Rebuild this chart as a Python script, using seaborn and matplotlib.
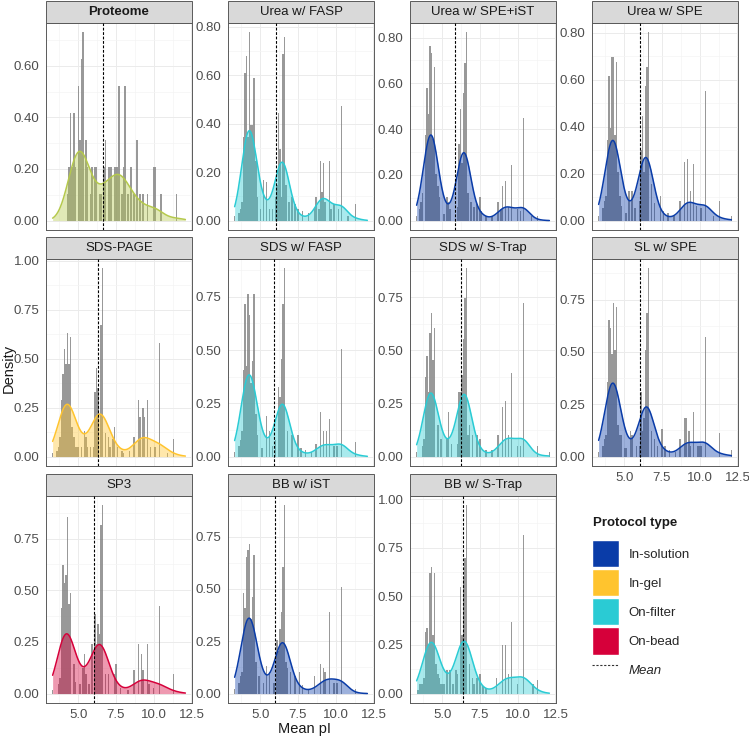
import numpy as np
import matplotlib
matplotlib.use('Agg')
import matplotlib.pyplot as plt
from matplotlib.patches import Rectangle, Patch
from matplotlib.lines import Line2D
from matplotlib.ticker import MultipleLocator, FormatStrFormatter
import seaborn as sns

# Панели и типы протоколов
panels = ['Proteome', 'Urea w/ FASP', 'Urea w/ SPE+iST', 'Urea w/ SPE',
          'SDS-PAGE', 'SDS w/ FASP', 'SDS w/ S-Trap', 'SL w/ SPE',
          'SP3', 'BB w/ iST', 'BB w/ S-Trap']
panel_type = ['Proteome', 'On-filter', 'In-solution', 'In-solution',
              'In-gel', 'On-filter', 'On-filter', 'In-solution',
              'On-bead', 'In-solution', 'On-filter']
mean_pi = [6.63, 6.02, 5.86, 6.04, 6.30, 5.90, 6.24, 6.04, 6.04, 5.95, 6.35]

type_names = ['In-solution', 'In-gel', 'On-filter', 'On-bead']
type_colors = {'In-solution': '#0A3CA8', 'In-gel': '#FFC42E', 'On-filter': '#2ACBD4',
               'On-bead': '#D6003A', 'Proteome': '#B5C94C'}

# Данные гистограмм: pI (центр бина 0.1) и высота столбца
proteome_pi = [4.3, 4.4, 4.5, 4.6, 4.7, 4.8, 5.0, 5.1, 5.2, 5.3, 5.5, 5.6, 5.8, 5.9,
               6.1, 6.2, 6.4, 6.5, 6.7, 6.8, 7.0, 7.1, 7.2, 7.4, 7.5, 7.6, 7.7, 7.9,
               8.0, 8.1, 8.3, 8.5, 8.7, 8.9, 9.1, 9.3, 9.6, 10.0, 10.1, 10.5, 11.5]
proteome_h = [1, 2, 4, 2, 4, 2, 5, 3, 6, 7, 3, 2, 1, 2,
              2, 2, 1, 1, 2, 3, 2, 2, 2, 2, 2, 2, 5, 1,
              2, 5, 1, 2, 1, 3, 1, 1, 1, 2, 2, 1, 1]

ufasp_pi = [3.3, 3.6, 3.7, 3.8, 3.9, 4.0, 4.1, 4.2, 4.3, 4.4, 4.5, 4.6, 4.7, 4.8,
            5.0, 5.2, 5.4, 5.6, 5.8, 6.0, 6.1, 6.2, 6.3, 6.4, 6.5, 6.6, 6.7, 6.9,
            7.1, 7.3, 7.5, 7.8, 8.2, 8.6, 8.7, 8.9, 9.0, 9.1, 9.2, 9.3, 9.6, 9.7,
            9.9, 10.2, 10.4, 10.8, 11.3]
ufasp_h = [0.02, 0.03, 0.05, 0.08, 0.35, 0.62, 0.69, 0.35, 0.79, 0.40, 0.40, 0.60, 0.25, 0.10,
           0.05, 0.17, 0.16, 0.05, 0.05, 0.10, 0.15, 0.45, 0.30, 0.10, 0.70, 0.77, 0.15, 0.08,
           0.10, 0.07, 0.05, 0.04, 0.03, 0.05, 0.10, 0.05, 0.25, 0.12, 0.24, 0.08, 0.25, 0.05,
           0.07, 0.05, 0.48, 0.02, 0.07]

uspeist_pi = [3.3, 3.5, 3.6, 3.7, 3.9, 4.0, 4.1, 4.2, 4.3, 4.4, 4.5, 4.6, 4.7, 4.8,
              5.1, 5.3, 5.4, 5.5, 6.0, 6.1, 6.2, 6.3, 6.4, 6.5, 6.6, 6.7, 6.9, 7.1,
              7.3, 7.5, 7.6, 7.9, 8.3, 8.7, 8.9, 9.0, 9.2, 9.4, 9.6, 10.0, 10.2, 10.4,
              10.9, 11.3]
uspeist_h = [0.02, 0.05, 0.08, 0.12, 0.37, 0.57, 0.46, 0.75, 0.72, 0.35, 0.66, 0.20, 0.15, 0.10,
             0.03, 0.10, 0.08, 0.05, 0.06, 0.33, 0.48, 0.25, 0.55, 0.68, 0.81, 0.12, 0.08, 0.06,
             0.07, 0.10, 0.04, 0.02, 0.02, 0.08, 0.05, 0.15, 0.17, 0.06, 0.24, 0.05, 0.04, 0.44,
             0.02, 0.02]

uspe_pi = [3.3, 3.6, 3.7, 3.8, 3.9, 4.0, 4.1, 4.2, 4.3, 4.4, 4.5, 4.6, 4.7, 4.8,
           5.1, 5.3, 5.5, 5.7, 6.0, 6.1, 6.2, 6.3, 6.4, 6.5, 6.6, 6.8, 7.0, 7.4,
           7.6, 7.9, 8.3, 8.7, 9.0, 9.2, 9.4, 9.6, 9.8, 10.1, 10.4, 10.9, 11.3, 12.1]
uspe_h = [0.02, 0.05, 0.08, 0.10, 0.33, 0.59, 0.38, 0.67, 0.67, 0.35, 0.65, 0.20, 0.10, 0.06,
          0.03, 0.12, 0.12, 0.05, 0.08, 0.29, 0.43, 0.20, 0.55, 0.63, 0.77, 0.15, 0.07, 0.10,
          0.04, 0.03, 0.02, 0.08, 0.24, 0.25, 0.12, 0.23, 0.06, 0.05, 0.53, 0.02, 0.08, 0.02]

page_pi = [3.3, 3.6, 3.7, 3.8, 3.9, 4.0, 4.1, 4.2, 4.3, 4.4, 4.5, 4.6, 4.7, 4.8,
           4.9, 5.0, 5.2, 5.4, 5.5, 5.6, 5.8, 6.0, 6.1, 6.2, 6.3, 6.5, 6.6, 6.8,
           7.0, 7.1, 7.3, 7.4, 7.6, 7.9, 8.0, 8.4, 8.7, 9.0, 9.1, 9.3, 9.4, 9.6,
           9.8, 10.1, 10.4, 10.9, 11.3]
page_h = [0.02, 0.03, 0.05, 0.10, 0.29, 0.42, 0.55, 0.47, 0.63, 0.47, 0.61, 0.15, 0.10, 0.05,
          0.05, 0.05, 0.05, 0.13, 0.10, 0.05, 0.05, 0.05, 0.33, 0.45, 0.35, 0.67, 0.96, 0.12,
          0.10, 0.05, 0.09, 0.15, 0.05, 0.03, 0.02, 0.03, 0.10, 0.29, 0.20, 0.25, 0.20, 0.29,
          0.05, 0.05, 0.58, 0.02, 0.09]

sfasp_pi = [3.3, 3.6, 3.7, 3.8, 3.9, 4.0, 4.1, 4.2, 4.3, 4.4, 4.5, 4.6, 4.7, 4.8,
            5.1, 5.4, 5.6, 5.8, 6.0, 6.2, 6.3, 6.4, 6.5, 6.6, 6.8, 7.1, 7.5, 7.7,
            8.0, 8.4, 8.7, 9.0, 9.2, 9.4, 9.6, 9.9, 10.1, 10.4, 11.3]
sfasp_h = [0.02, 0.05, 0.08, 0.12, 0.41, 0.72, 0.43, 0.77, 0.67, 0.35, 0.45, 0.77, 0.20, 0.10,
           0.04, 0.19, 0.12, 0.05, 0.08, 0.33, 0.28, 0.46, 0.72, 0.89, 0.12, 0.10, 0.10, 0.04,
           0.03, 0.02, 0.06, 0.21, 0.12, 0.12, 0.18, 0.05, 0.05, 0.51, 0.07]

sstrap_pi = [3.3, 3.7, 3.8, 3.9, 4.0, 4.1, 4.2, 4.3, 4.4, 4.5, 4.7, 4.9, 5.3, 5.4,
             5.6, 6.0, 6.1, 6.2, 6.3, 6.4, 6.5, 6.6, 6.7, 6.8, 7.0, 7.3, 7.5, 7.9,
             8.3, 8.7, 9.0, 9.2, 9.4, 9.6, 10.0, 10.2, 10.4, 11.3, 12.1]
sstrap_h = [0.02, 0.05, 0.08, 0.37, 0.47, 0.30, 0.58, 0.67, 0.45, 0.60, 0.15, 0.08, 0.08, 0.21,
            0.06, 0.06, 0.30, 0.30, 0.38, 0.55, 0.74, 0.88, 0.10, 0.15, 0.10, 0.10, 0.08, 0.03,
            0.03, 0.10, 0.23, 0.26, 0.10, 0.39, 0.05, 0.05, 0.72, 0.05, 0.02]

slspe_pi = [3.3, 3.6, 3.7, 3.8, 3.9, 4.0, 4.1, 4.2, 4.3, 4.4, 4.5, 4.6, 4.7, 4.8,
            5.0, 5.1, 5.4, 5.5, 5.8, 6.0, 6.1, 6.2, 6.3, 6.4, 6.5, 6.6, 6.8, 7.0,
            7.2, 7.5, 7.7, 8.0, 8.4, 8.7, 9.0, 9.1, 9.3, 9.4, 9.6, 9.9, 10.0, 10.1,
            10.4, 11.3, 12.1]
slspe_h = [0.02, 0.05, 0.08, 0.10, 0.35, 0.64, 0.60, 0.48, 0.72, 0.50, 0.70, 0.15, 0.10, 0.10,
           0.04, 0.04, 0.12, 0.10, 0.05, 0.05, 0.30, 0.12, 0.18, 0.50, 0.67, 0.88, 0.12, 0.08,
           0.05, 0.13, 0.05, 0.03, 0.02, 0.08, 0.18, 0.18, 0.12, 0.05, 0.21, 0.05, 0.05, 0.05,
           0.56, 0.11, 0.03]

sp3_pi = [3.3, 3.7, 3.8, 3.9, 4.0, 4.1, 4.2, 4.3, 4.4, 4.5, 4.7, 4.8, 5.1, 5.3,
          5.4, 5.5, 5.7, 5.9, 6.1, 6.2, 6.3, 6.4, 6.5, 6.6, 6.8, 7.0, 7.4, 7.5,
          7.8, 8.3, 8.7, 9.0, 9.2, 9.3, 9.6, 9.7, 10.0, 10.4, 11.3]
sp3_h = [0.02, 0.05, 0.08, 0.43, 0.64, 0.55, 0.59, 0.88, 0.45, 0.50, 0.15, 0.06, 0.05, 0.13,
         0.20, 0.10, 0.05, 0.25, 0.40, 0.25, 0.35, 0.30, 0.84, 0.94, 0.10, 0.10, 0.10, 0.15,
         0.03, 0.02, 0.12, 0.25, 0.20, 0.12, 0.25, 0.05, 0.03, 0.44, 0.10]

bbist_pi = [3.3, 3.6, 3.7, 3.8, 3.9, 4.0, 4.1, 4.2, 4.3, 4.4, 4.5, 4.6, 4.7, 4.9,
            5.2, 5.4, 5.6, 5.9, 6.1, 6.2, 6.3, 6.4, 6.5, 6.6, 6.7, 6.8, 7.0, 7.3,
            7.6, 7.8, 8.2, 8.6, 9.0, 9.2, 9.3, 9.6, 9.9, 10.1, 10.4, 11.3]
bbist_h = [0.02, 0.05, 0.08, 0.10, 0.47, 0.40, 0.64, 0.67, 0.70, 0.35, 0.45, 0.65, 0.15, 0.08,
           0.05, 0.13, 0.10, 0.05, 0.25, 0.20, 0.30, 0.38, 0.59, 0.88, 0.15, 0.12, 0.10, 0.08,
           0.10, 0.04, 0.02, 0.08, 0.14, 0.12, 0.10, 0.38, 0.05, 0.05, 0.50, 0.02]

bbstrap_pi = [3.4, 3.5, 3.6, 3.7, 3.8, 3.9, 4.0, 4.1, 4.2, 4.3, 4.4, 4.5, 4.6, 4.7,
              4.8, 4.9, 5.0, 5.1, 5.3, 5.5, 5.7, 5.9, 6.0, 6.2, 6.3, 6.4, 6.5, 6.6,
              6.8, 7.0, 7.1, 7.3, 7.5, 7.7, 7.9, 8.6, 9.0, 9.2, 9.4, 9.6, 10.0, 10.4,
              11.0, 11.3]
bbstrap_h = [0.02, 0.05, 0.05, 0.05, 0.08, 0.32, 0.34, 0.25, 0.62, 0.65, 0.30, 0.62, 0.15, 0.10,
             0.08, 0.05, 0.05, 0.05, 0.12, 0.12, 0.05, 0.12, 0.10, 0.55, 0.30, 0.60, 0.70, 0.97,
             0.15, 0.08, 0.05, 0.08, 0.10, 0.04, 0.03, 0.08, 0.25, 0.25, 0.10, 0.37, 0.05, 0.82,
             0.05, 0.07]

pi_sets = [proteome_pi, ufasp_pi, uspeist_pi, uspe_pi, page_pi, sfasp_pi,
           sstrap_pi, slspe_pi, sp3_pi, bbist_pi, bbstrap_pi]
h_sets = [proteome_h, ufasp_h, uspeist_h, uspe_h, page_h, sfasp_h,
          sstrap_h, slspe_h, sp3_h, bbist_h, bbstrap_h]

# ширина ядра KDE (в единицах pI) и шаг делений оси y
kde_bw = [0.55, 0.42, 0.42, 0.45, 0.55, 0.45, 0.45, 0.47, 0.55, 0.47, 0.50]
y_step = [0.2, 0.2, 0.2, 0.2, 0.25, 0.25, 0.25, 0.25, 0.25, 0.25, 0.25]

sns.set_style('white')
plt.rcParams['font.family'] = ['Liberation Sans', 'DejaVu Sans']

W, H = 749, 736
fig = plt.figure(figsize=(W / 100, H / 100), dpi=100)
col_x = [46, 228, 410, 592]
row_top = [23, 259, 496]
pw, ph, strip_h = 146, 207, 22
bottom_panels = [7, 8, 9, 10]

for i, name in enumerate(panels):
    r, c = divmod(i, 4)
    ax = fig.add_axes([col_x[c] / W, 1 - (row_top[r] + ph) / H, pw / W, ph / H])
    x = np.array(pi_sets[i])
    w = np.array(h_sets[i], dtype=float)
    col = type_colors[panel_type[i]]

    sns.histplot(x=x, weights=w, stat='density', binwidth=0.1, binrange=(3.25, 12.15),
                 color='#808080', alpha=0.8, linewidth=0, ax=ax, zorder=2)
    fac = kde_bw[i] / np.sqrt(np.cov(x, aweights=w))
    sns.kdeplot(x=x, weights=w, bw_method=fac, cut=30, clip=(3.3, 12.1), gridsize=400,
                fill=True, color=col, alpha=0.4, linewidth=0, ax=ax, zorder=3)
    sns.kdeplot(x=x, weights=w, bw_method=fac, cut=30, clip=(3.3, 12.1), gridsize=400,
                color=col, linewidth=1.1, ax=ax, zorder=4)
    ax.axvline(mean_pi[i], color='black', lw=0.8, ls=(0, (2.5, 1.5)), zorder=5)

    top = max(max(p.get_height() for p in ax.patches), ax.lines[0].get_ydata().max())
    ax.set_xlim(2.86, 12.54)
    ax.set_ylim(-0.05 * top, 1.05 * top)
    ax.set_xlabel('')
    ax.set_ylabel('')

    ax.xaxis.set_major_locator(MultipleLocator(2.5))
    ax.xaxis.set_minor_locator(MultipleLocator(1.25))
    ax.xaxis.set_major_formatter(FormatStrFormatter('%.1f'))
    ax.yaxis.set_major_locator(MultipleLocator(y_step[i]))
    ax.yaxis.set_minor_locator(MultipleLocator(y_step[i] / 2))
    ax.yaxis.set_major_formatter(FormatStrFormatter('%.2f'))
    ax.grid(which='major', color='#ebebeb', lw=0.7)
    ax.grid(which='minor', color='#f4f4f4', lw=0.5)
    ax.set_axisbelow(True)
    for s in ax.spines.values():
        s.set_color('#5a5a5a')
        s.set_linewidth(0.7)

    ax.tick_params(axis='both', which='minor', length=0)
    ax.tick_params(axis='y', which='major', length=3, width=0.6, color='#333333',
                   labelsize=9.5, labelcolor='#4d4d4d', pad=1.5)
    if i in bottom_panels:
        ax.tick_params(axis='x', which='major', length=3, width=0.6, color='#333333',
                       labelsize=9.5, labelcolor='#4d4d4d', pad=1.5)
    else:
        ax.tick_params(axis='x', which='major', length=0, labelbottom=False)

    # полоса с названием панели
    ax.add_patch(Rectangle((0, 1), 1, strip_h / ph, transform=ax.transAxes, clip_on=False,
                           facecolor='#d9d9d9', edgecolor='#5a5a5a', lw=0.7))
    ax.text(0.5, 1 + strip_h / ph / 2, name, transform=ax.transAxes, ha='center', va='center',
            fontsize=9.5, color='#1a1a1a', fontweight='bold' if name == 'Proteome' else 'normal')

fig.text(304 / W, 1 - 729 / H, 'Mean pI', ha='center', va='center', fontsize=10.5, color='#1a1a1a')
fig.text(9 / W, 1 - 368 / H, 'Density', ha='center', va='center', rotation=90,
         fontsize=10.5, color='#1a1a1a')

# легенда
fig.text(593 / W, 1 - 523 / H, 'Protocol type', ha='left', va='center', fontsize=9.5,
         fontweight='bold', color='#1a1a1a')
handles = [Patch(facecolor=type_colors[t], edgecolor='white', lw=1) for t in type_names]
handles.append(Line2D([0], [0], color='#333333', lw=0.8, ls=(0, (2, 1.5))))
leg = fig.legend(handles, type_names + ['Mean'], loc='upper left',
                 bbox_to_anchor=(587 / W, 1 - 535 / H), frameon=False, fontsize=9.5,
                 handlelength=2.05, handleheight=2.78, labelspacing=0.15, handletextpad=0.68,
                 borderaxespad=0)
leg.get_texts()[-1].set_style('italic')

fig.savefig('out.png', dpi=100)
